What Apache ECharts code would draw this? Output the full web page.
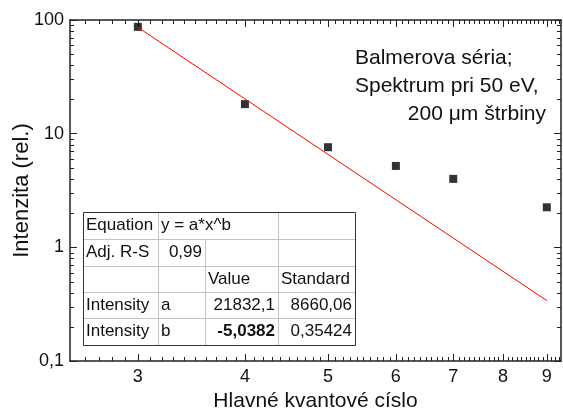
<!DOCTYPE html>
<html>
<head>
<meta charset="utf-8">
<script src="https://cdn.jsdelivr.net/npm/echarts@6/dist/echarts.min.js"></script>
<style>
html, body { margin: 0; padding: 0; background: #fff; }
#chart { width: 563px; height: 415px; }
</style>
</head>
<body>
<div id="chart"></div>
<script>
// measured points (Balmer series) and the power-law fit ends
var nVals     = [3, 4, 5, 6, 7, 9];
var intensity = [87, 18.2, 7.6, 5.2, 4.0, 2.25];
var fitN      = [3, 9];
var fitI      = [86.2, 0.34];

var xMajor = [3, 4, 5, 6, 7, 8, 9];
var yMajor = [0.1, 1, 10, 100];

var tableRows = [
    ['Equation', 'y = a*x^b', '', ''],
    ['Adj. R-S', '0,99', '', ''],
    ['', '', 'Value', 'Standard'],
    ['Intensity', 'a', '21832,1', '8660,06'],
    ['Intensity', 'b', '-5,0382', '0,35424']
];

var noteLines = ['Balmerova séria;', 'Spektrum pri 50 eV,', '200 μm štrbiny'];

// minor tick positions
var xMinor = [];
for (var i = 26; i <= 93; i++) {
    if (i % 10 !== 0) xMinor.push(i / 10);
}
var yMinor = [];
[0.1, 1, 10].forEach(function (d) {
    for (var k = 2; k <= 9; k++) yMinor.push(+(d * k).toPrecision(4));
});

var FONT = 'Liberation Sans, Arial, sans-serif';
var AX   = '#222';

var xMin = 2.5, xMax = 9.35, yMin = 0.1, yMax = 100;

function fmtNum(v) {
    return String(+(+v).toPrecision(6)).replace('.', ',');
}

function xAx(pos, showLabel) {
    return {
        type: 'log', position: pos, min: xMin, max: xMax,
        axisLine : {show: true, onZero: false, lineStyle: {color: AX, width: 1.5}},
        axisTick : {show: true, inside: true, length: 7, customValues: xMajor, lineStyle: {color: AX, width: 1}},
        axisLabel: {show: showLabel, customValues: xMajor, fontSize: 18, color: '#111', fontFamily: FONT, margin: 7, formatter: fmtNum},
        splitLine: {show: false},
        nameMoveOverlap: false
    };
}

function yAx(pos, showLabel) {
    return {
        type: 'log', position: pos, min: yMin, max: yMax,
        axisLine : {show: true, onZero: false, lineStyle: {color: AX, width: 1.5}},
        axisTick : {show: true, inside: true, length: 7, customValues: yMajor, lineStyle: {color: AX, width: 1}},
        axisLabel: {show: showLabel, customValues: yMajor, fontSize: 18, color: '#111', fontFamily: FONT, margin: 6, formatter: fmtNum},
        splitLine: {show: false},
        nameMoveOverlap: false
    };
}

var xAxes = [xAx('bottom', true), xAx('top', false)];
xAxes[0].name = 'Hlavné kvantové císlo';
xAxes[0].nameLocation = 'middle';
xAxes[0].nameGap = 30;
xAxes[0].nameTextStyle = {fontSize: 21, color: '#111', fontFamily: FONT};

var yAxes = [yAx('left', true), yAx('right', false)];
yAxes[0].name = 'Intenzita (rel.)';
yAxes[0].nameLocation = 'middle';
yAxes[0].nameGap = 37;
yAxes[0].nameTextStyle = {fontSize: 22, color: '#111', fontFamily: FONT};

// minor ticks, placed through the axes' own scales
function minorTick(horizontal) {
    return function (params, api) {
        var cs = params.coordSys;
        var p  = api.coord([api.value(0), api.value(1)]);
        var st = {stroke: AX, lineWidth: 1};
        if (horizontal) {
            var x = Math.round(p[0]) + 0.5, b = cs.y + cs.height;
            return {type: 'group', children: [
                {type: 'line', shape: {x1: x, y1: b, x2: x, y2: b - 4}, style: st},
                {type: 'line', shape: {x1: x, y1: cs.y, x2: x, y2: cs.y + 4}, style: st}
            ]};
        }
        var y = Math.round(p[1]) + 0.5, rgt = cs.x + cs.width;
        return {type: 'group', children: [
            {type: 'line', shape: {x1: cs.x, y1: y, x2: cs.x + 4, y2: y}, style: st},
            {type: 'line', shape: {x1: rgt, y1: y, x2: rgt - 4, y2: y}, style: st}
        ]};
    };
}

// fit table (drawn as graphic)
var colX  = [83, 158, 205, 278, 355];
var rowY  = [212, 239, 266, 292, 318, 345];
var align = [
    ['left', 'left', 'left', 'left'],
    ['left', 'right', 'left', 'left'],
    ['left', 'left', 'left', 'left'],
    ['left', 'left', 'right', 'right'],
    ['left', 'left', 'right', 'right']
];
var tbl = [];
for (var r = 1; r < rowY.length - 1; r++) {
    tbl.push({type: 'line', shape: {x1: colX[0], y1: rowY[r] + 0.5, x2: colX[4], y2: rowY[r] + 0.5},
        style: {stroke: '#c4c4c4', lineWidth: 1}});
}
// first row has col 1-2 merged
for (var r2 = 0; r2 < tableRows.length; r2++) {
    for (var c = 1; c < 4; c++) {
        if (r2 === 0 && c === 2) continue;
        tbl.push({type: 'line', shape: {x1: colX[c] + 0.5, y1: rowY[r2], x2: colX[c] + 0.5, y2: rowY[r2 + 1]},
            style: {stroke: '#c4c4c4', lineWidth: 1}});
    }
}
tbl.push({type: 'rect', shape: {x: colX[0] + 0.5, y: rowY[0] + 0.5, width: colX[4] - colX[0], height: rowY[5] - rowY[0]},
    style: {fill: 'none', stroke: '#333', lineWidth: 1}});
tableRows.forEach(function (row, ri) {
    row.forEach(function (txt, ci) {
        if (!txt) return;
        var a = align[ri][ci];
        tbl.push({
            type: 'text',
            x: a === 'left' ? colX[ci] + 3 : colX[ci + 1] - 3,
            y: (rowY[ri] + rowY[ri + 1]) / 2,
            style: {
                text: txt, fill: '#111', fontSize: 17, fontFamily: FONT,
                fontWeight: txt === '-5,0382' ? 'bold' : 'normal',
                textAlign: a, textVerticalAlign: 'middle'
            }
        });
    });
});

var noteX     = [355, 355, 546];
var noteAlign = ['left', 'left', 'right'];
var noteY     = [58, 86, 114];
var notes = noteLines.map(function (t, i) {
    return {
        type: 'text', x: noteX[i], y: noteY[i],
        style: {text: t, fill: '#111', fontSize: 21, fontFamily: FONT,
            textAlign: noteAlign[i], textVerticalAlign: 'middle'}
    };
});

var chart = echarts.init(document.getElementById('chart'));
chart.setOption({
    animation: false,
    backgroundColor: '#fff',
    grid: {left: 70, right: 2, top: 20, bottom: 54, outerBoundsMode: 'none'},
    xAxis: xAxes,
    yAxis: yAxes,
    series: [
        {
            type: 'custom', silent: true, clip: false,
            data: xMinor.map(function (v) { return [v, yMin]; }),
            renderItem: minorTick(true)
        },
        {
            type: 'custom', silent: true, clip: false,
            data: yMinor.map(function (v) { return [xMin, v]; }),
            renderItem: minorTick(false)
        },
        {
            type: 'line',
            data: fitN.map(function (n, i) { return [n, fitI[i]]; }),
            showSymbol: false, symbol: 'none',
            lineStyle: {color: '#ff0000', width: 1}
        },
        {
            type: 'scatter',
            data: nVals.map(function (n, i) { return [n, intensity[i]]; }),
            symbol: 'rect', symbolSize: 8,
            itemStyle: {color: '#000'}
        }
    ],
    graphic: [
        {type: 'group', children: tbl},
        {type: 'group', children: notes}
    ]
});
</script>
</body>
</html>
